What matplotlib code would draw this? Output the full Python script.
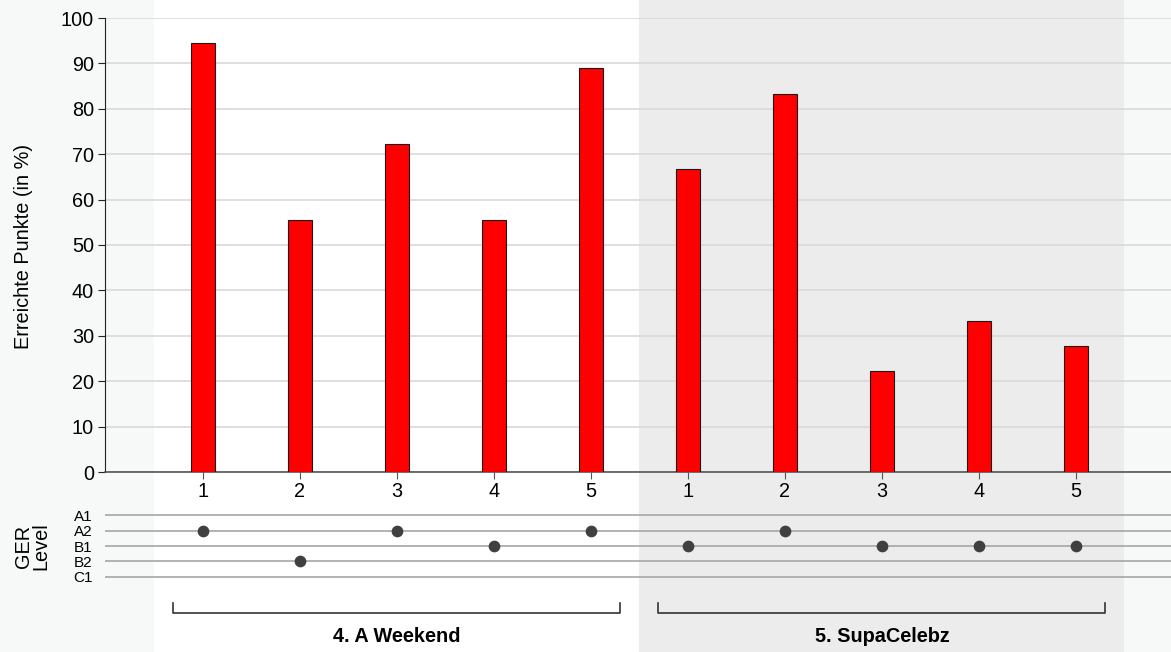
import matplotlib.pyplot as plt
import numpy as np

# Daten
gruppen = ['4. A Weekend', '5. SupaCelebz']
aufgaben = ['1', '2', '3', '4', '5']
punkte_weekend = [94.4, 55.6, 72.2, 55.6, 88.9]
punkte_celebz = [66.7, 83.3, 22.2, 33.3, 27.8]
level_namen = ['A1', 'A2', 'B1', 'B2', 'C1']
level_weekend = ['A2', 'B2', 'A2', 'B1', 'A2']
level_celebz = ['B1', 'A2', 'B1', 'B1', 'B1']

plt.rcParams['font.family'] = ['Liberation Sans', 'DejaVu Sans']

W, H = 1171, 652
fs = 14.3
fig = plt.figure(figsize=(W / 100, H / 100), dpi=100)
fig.patch.set_facecolor('#f7f8f8')

punkte = punkte_weekend + punkte_celebz
levels = level_weekend + level_celebz
x = np.arange(len(punkte))
xlim = (-1.01, 9.98)
left = 105 / W

# Hintergrund-Baender
bg = fig.add_axes([left, 0, 1 - left, 1], zorder=0)
bg.set_xlim(xlim)
bg.set_ylim(0, 1)
bg.axis('off')
bg.axvspan(-0.5, 4.5, color='white', lw=0)
bg.axvspan(4.5, 9.5, color='#ececec', lw=0)

# Balken
ax = fig.add_axes([left, (H - 472) / H, 1 - left, 454 / H], zorder=2)
ax.patch.set_alpha(0)
ax.bar(x, punkte, width=0.25, color='#ff0000', edgecolor='#1a1a1a', linewidth=0.8, zorder=3)
ax.set_xlim(xlim)
ax.set_ylim(0, 100)
ax.set_yticks(range(0, 101, 10))
ax.yaxis.grid(True, color='#d9d9d9', linewidth=1.2, zorder=0)
ax.set_axisbelow(True)
ax.set_xticks(x)
ax.set_xticklabels(aufgaben * 2)
ax.tick_params(axis='y', labelsize=fs, length=5, direction='out', color='#222222', pad=3)
ax.tick_params(axis='x', labelsize=fs, length=5, direction='out', color='#555555', pad=2)
for s in ['top', 'right']:
    ax.spines[s].set_visible(False)
ax.spines['left'].set_color('#222222')
ax.spines['bottom'].set_color('#555555')
ax.spines['bottom'].set_linewidth(1.2)
fig.text(24 / W, 1 - 246 / H, 'Erreichte Punkte (in %)', rotation=90,
         ha='center', va='center', fontsize=fs)

# GER Level
lv = fig.add_axes([left, (H - 587) / H, 1 - left, 82 / H], zorder=2)
lv.patch.set_alpha(0)
lv.set_xlim(xlim)
lv.set_ylim(4.65, -0.65)
for i in range(len(level_namen)):
    lv.axhline(i, color='#a6a6a6', linewidth=1.2, zorder=1)
ly = [level_namen.index(l) for l in levels]
lv.scatter(x, ly, s=55, color='#404040', zorder=3)
lv.set_yticks(range(len(level_namen)))
lv.set_yticklabels(level_namen, fontsize=11)
lv.tick_params(axis='y', length=0, pad=9)
lv.set_xticks([])
for s in lv.spines.values():
    s.set_visible(False)
fig.text(32 / W, 1 - 546 / H, 'GER\nLevel', rotation=90, ha='center', va='center',
         fontsize=fs, linespacing=0.92, multialignment='center')

# Klammern mit Gruppennamen
br = fig.add_axes([left, 0, 1 - left, (H - 595) / H], zorder=2)
br.set_xlim(xlim)
br.set_ylim(57, 0)
br.axis('off')
for g, name in enumerate(gruppen):
    a, b = g * 5 - 0.31, g * 5 + 4.3
    br.plot([a, a, b, b], [8, 18, 18, 8], color='#333333', linewidth=1.2)
    br.text(g * 5 + 2, 41, name, ha='center', va='center', fontsize=fs, fontweight='bold')

fig.savefig('out.png', dpi=100, facecolor=fig.get_facecolor())
